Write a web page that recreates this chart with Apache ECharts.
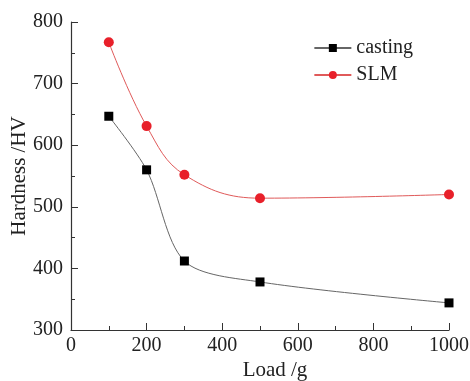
<!DOCTYPE html>
<html>
<head>
<meta charset="utf-8">
<script src="https://cdn.jsdelivr.net/npm/echarts@6/dist/echarts.min.js"></script>
<style>html,body{margin:0;padding:0;background:#fff}#c{width:470px;height:381px}</style>
</head>
<body>
<div id="c"></div>
<script>
var loads = [100, 200, 300, 500, 1000];
var castingValues = [647, 560, 412, 378, 344];
var slmValues = [767, 631, 552, 514, 520];
var xTicks = [0, 200, 400, 600, 800, 1000];
var yTicks = [300, 400, 500, 600, 700, 800];

function pairs(xs, ys) { return xs.map(function (x, i) { return [x, ys[i]]; }); }

var font = 'Liberation Serif';
var chart = echarts.init(document.getElementById('c'), null, {renderer: 'canvas'});
chart.setOption({
  animation: false,
  backgroundColor: '#fff',
  textStyle: {fontFamily: font},
  grid: {left: 71, right: 21, top: 22, bottom: 51, containLabel: false, outerBoundsMode: 'none'},
  legend: {
    right: 52, top: 33, orient: 'vertical',
    itemWidth: 37, itemHeight: 10, itemGap: 7,
    textStyle: {fontFamily: font, fontSize: 20, color: '#222'},
    data: ['casting', 'SLM']
  },
  xAxis: {
    type: 'value', min: 0, max: 1000, interval: 200,
    name: 'Load /g', nameLocation: 'middle', nameGap: 30, nameMoveOverlap: false,
    nameTextStyle: {fontFamily: font, fontSize: 21, color: '#222', padding: [0, 0, 0, 30]},
    axisLine: {lineStyle: {color: '#333', width: 1.2}},
    axisTick: {inside: true, length: 7, lineStyle: {color: '#333'}},
    minorTick: {show: true, splitNumber: 2, length: 4, lineStyle: {color: '#333'}},
    axisLabel: {fontFamily: font, fontSize: 20, color: '#222', margin: 6,
      formatter: function (v) { return xTicks.indexOf(v) >= 0 ? String(v) : ''; }},
    splitLine: {show: false}
  },
  yAxis: {
    type: 'value', min: 300, max: 800, interval: 100,
    name: 'Hardness /HV', nameLocation: 'middle', nameGap: 41, nameRotate: 90, nameMoveOverlap: false,
    nameTextStyle: {fontFamily: font, fontSize: 21, color: '#222'},
    axisLine: {show: true, lineStyle: {color: '#333', width: 1.2}},
    axisTick: {inside: true, length: 7, lineStyle: {color: '#333'}},
    minorTick: {show: true, splitNumber: 2, length: 4, lineStyle: {color: '#333'}},
    axisLabel: {fontFamily: font, fontSize: 20, color: '#222', margin: 8,
      formatter: function (v) { return yTicks.indexOf(v) >= 0 ? String(v) : ''; }},
    splitLine: {show: false}
  },
  series: [
    {
      name: 'casting', type: 'line', smooth: 0.3,
      data: pairs(loads, castingValues),
      symbol: 'rect', symbolSize: 9,
      itemStyle: {color: '#000'},
      lineStyle: {color: '#666', width: 1}
    },
    {
      name: 'SLM', type: 'line', smooth: 0.4,
      data: pairs(loads, slmValues),
      symbol: 'circle', symbolSize: 10,
      itemStyle: {color: '#e8202a'},
      lineStyle: {color: '#e05a5a', width: 1}
    }
  ]
});
</script>
</body>
</html>
